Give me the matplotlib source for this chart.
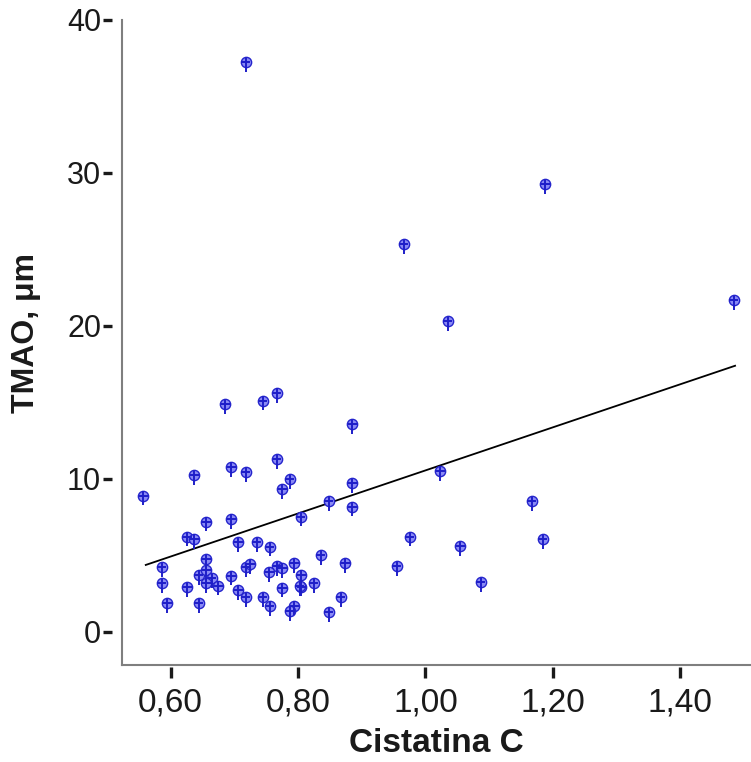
import matplotlib
matplotlib.use("Agg")
import matplotlib.pyplot as plt
from matplotlib.path import Path
from matplotlib.transforms import blended_transform_factory

# Cistatina C vs TMAO
cistatina = [0.718, 1.188, 1.484, 0.966, 1.035, 0.686, 0.745, 0.767, 0.885, 0.557,
             0.637, 0.695, 0.718, 0.656, 0.695, 0.626, 0.637, 0.706, 0.735, 0.586,
             0.656, 0.644, 0.656, 0.665, 0.656, 0.675, 0.586, 0.626, 0.695, 0.706,
             0.718, 0.719, 0.725, 0.595, 0.644, 0.745, 0.767, 0.787, 0.775, 0.885,
             0.848, 0.885, 0.804, 0.756, 0.836, 0.874, 0.794, 0.767, 0.775, 0.755,
             0.805, 0.825, 0.775, 0.805, 0.803, 0.867, 0.756, 0.794, 0.787, 0.848,
             1.023, 0.975, 1.055, 0.955, 1.087, 1.167, 1.184]
tmao = [37.25, 29.28, 21.7, 25.36, 20.31, 14.9, 15.12, 15.64, 13.59, 8.91,
        10.26, 10.8, 10.44, 7.21, 7.39, 6.23, 6.08, 5.86, 5.86, 4.23,
        4.77, 3.73, 4.05, 3.51, 3.18, 3.03, 3.18, 2.92, 3.68, 2.75,
        2.27, 4.23, 4.44, 1.88, 1.88, 2.27, 11.29, 9.98, 9.35, 9.72,
        8.58, 8.19, 7.54, 5.58, 5.03, 4.49, 4.49, 4.31, 4.2, 3.92,
        3.73, 3.18, 2.9, 2.96, 3.0, 2.27, 1.7, 1.72, 1.39, 1.29,
        10.54, 6.23, 5.62, 4.31, 3.25, 8.56, 6.06]

# linear fit line endpoints
fit_x = [0.561, 1.486]
fit_y = [4.38, 17.4]

x_ticks = [0.60, 0.80, 1.00, 1.20, 1.40]
x_tick_labels = ["0,60", "0,80", "1,00", "1,20", "1,40"]
y_ticks = [0, 10, 20, 30, 40]

plt.rcParams['font.family'] = ['Liberation Sans', 'DejaVu Sans']

fig = plt.figure(figsize=(7.51, 7.62), dpi=100)
ax = fig.add_axes([122 / 751, 97 / 762, 629 / 751, 645 / 762])

ax.set_xlim(0.5237, 1.511)
ax.set_ylim(-2.16, 40)

# SPSS-style marker: small circle with a cross and a stem below
pin = Path([(-1, 0), (1, 0), (0, 1), (0, -2.2)],
           [Path.MOVETO, Path.LINETO, Path.MOVETO, Path.LINETO])
ax.scatter(cistatina, tmao, marker='o', s=55, facecolors='#8a8af5',
           edgecolors='#2424cc', linewidths=1.0, zorder=3)
ax.scatter(cistatina, tmao, marker=pin, s=200, facecolors='none',
           edgecolors='#1e1ec8', linewidths=1.4, zorder=4)

ax.plot(fit_x, fit_y, color='black', lw=1.3, zorder=2)

for s in ['top', 'right']:
    ax.spines[s].set_visible(False)
for s in ['left', 'bottom']:
    ax.spines[s].set_color('#7f7f7f')
    ax.spines[s].set_linewidth(1.5)

ax.set_xticks(x_ticks)
ax.set_xticklabels(x_tick_labels)
ax.set_yticks(y_ticks)
ax.tick_params(axis='both', length=0)
ax.tick_params(axis='x', labelsize=24, pad=16.5, colors='#1a1a1a')
ax.tick_params(axis='y', labelsize=22, pad=15, colors='#1a1a1a')

# tick marks drawn a little off the spines, as in the original
ytr = blended_transform_factory(ax.transAxes, ax.transData)
for yt in y_ticks:
    ax.plot([-0.0302, -0.0159], [yt, yt], transform=ytr, color='#1a1a1a',
            lw=2.4, clip_on=False, solid_capstyle='butt')
xtr = blended_transform_factory(ax.transData, ax.transAxes)
for xt in x_ticks:
    ax.plot([xt, xt], [-0.0031, -0.0202], transform=xtr, color='#1a1a1a',
            lw=2.4, clip_on=False, solid_capstyle='butt')

ax.set_xlabel("Cistatina C", fontsize=24, fontweight='bold', color='#1a1a1a')
ax.xaxis.set_label_coords(0.5, -0.097)
ax.set_ylabel("TMAO, μm", fontsize=23, fontweight='bold', color='#1a1a1a', va='center')
ax.yaxis.set_label_coords(-0.152, 0.515)

fig.savefig("out.png", dpi=100)
plt.close(fig)
